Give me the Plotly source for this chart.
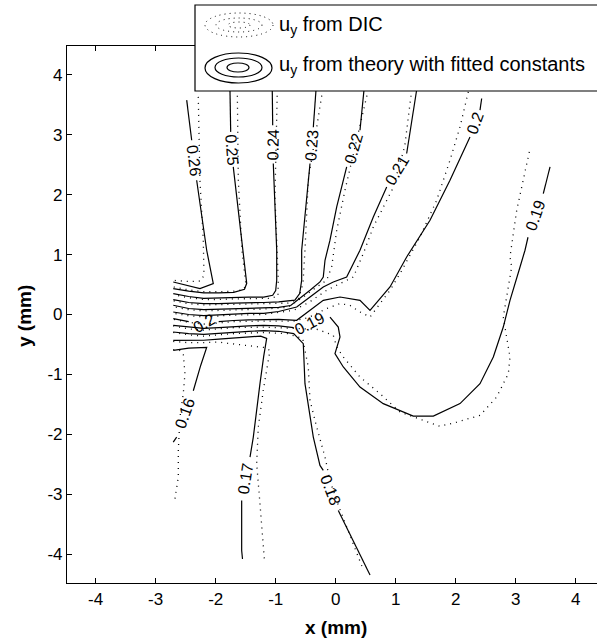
import plotly.graph_objects as go

# ---------------- data (mm) ----------------
# Theory contours (solid); None = gap where the contour label sits
th_026_x = [-2.483, -2.400, None, -2.317, -2.150, -2.040, -2.262, -2.707]
th_026_y = [3.578, 2.908, None, 2.240, 1.072, 0.516, 0.432, 0.543]

th_025_x = [-1.762, -1.750, None, -1.707, -1.483, -1.52, -1.70, -1.95, -2.20, -2.45, -2.707]
th_025_y = [3.75, 3.047, None, 2.462, 0.52, 0.42, 0.37, 0.36, 0.36, 0.39, 0.432]

th_024_x = [-1.057, -1.050, None, -1.040, -0.983, -0.983, -1.00, -1.05, -1.20, -1.45, -1.70, -1.95, -2.20, -2.45, -2.707]
th_024_y = [3.75, 3.159, None, 2.519, 1.072, 0.571, 0.40, 0.32, 0.29, 0.29, 0.28, 0.27, 0.27, 0.30, 0.349]

th_023_x = [-0.328, -0.373, None, -0.428, -0.567, -0.567, -0.60, -0.68, -0.95, -1.20, -1.45, -1.70, -1.95, -2.20, -2.45, -2.707]
th_023_y = [3.75, 3.125, None, 2.519, 1.072, 0.571, 0.35, 0.24, 0.21, 0.20, 0.20, 0.19, 0.18, 0.18, 0.20, 0.249]

th_022_x = [0.472, 0.405, None, 0.183, 0.017, -0.095, -0.178, -0.207, -0.262, -0.428, -0.60, -0.75, -0.95, -1.20, -1.45, -1.70, -1.95, -2.20, -2.45, -2.707]
th_022_y = [3.75, 3.075, None, 2.462, 1.795, 1.239, 0.905, 0.626, 0.543, 0.404, 0.27, 0.15, 0.12, 0.11, 0.11, 0.10, 0.09, 0.08, 0.10, 0.154]

th_021_x = [1.350, 1.183, None, 0.850, 0.627, 0.405, 0.183, -0.040, -0.207, -0.428, -0.650, -0.95, -1.20, -1.45, -1.70, -1.95, -2.20, -2.45, -2.707]
th_021_y = [3.75, 2.686, None, 2.129, 1.628, 1.072, 0.626, 0.543, 0.459, 0.292, 0.125, 0.05, 0.02, 0.02, 0.01, -0.01, -0.02, 0.00, 0.042]

th_020_x = [2.433, 2.405, None, 2.238, 1.905, 1.572, 1.183, 0.905, 0.572, 0.405, 0.072, -0.207, -0.428, -0.650, -0.95, -1.20, -1.45, -1.70, -1.95, None, -2.45, -2.707]
th_020_y = [3.604, 3.409, None, 2.963, 2.240, 1.573, 0.960, 0.459, 0.070, 0.237, 0.292, 0.237, 0.070, -0.097, -0.08, -0.08, -0.09, -0.10, -0.12, None, -0.12, -0.068]

th_019_x = [-2.707, -2.45, -2.20, -1.95, -1.70, -1.45, -1.20, -0.95, -0.70, None, -0.095, 0.043, 0.072, -0.012, 0.127, 0.405, 0.793, 1.293, 1.627, 2.072, 2.405, 2.627, 2.793, 2.905, 3.072, 3.155, 3.205, None, 3.460, 3.572]
th_019_y = [-0.180, -0.21, -0.23, -0.22, -0.20, -0.19, -0.18, -0.19, -0.22, None, -0.042, -0.209, -0.376, -0.653, -0.876, -1.210, -1.487, -1.694, -1.694, -1.487, -1.154, -0.710, -0.209, 0.237, 0.793, 1.072, 1.289, None, 2.018, 2.462]

th_018_x = [-2.707, -2.45, -2.20, -1.95, -1.70, -1.45, -1.20, -0.95, -0.70, -0.54, -0.512, -0.373, -0.262, -0.207, None, 0.043, 0.377, 0.572]
th_018_y = [-0.292, -0.32, -0.33, -0.31, -0.29, -0.28, -0.27, -0.28, -0.32, -0.486, -1.154, -2.045, -2.518, -2.60, None, -3.269, -3.937, -4.347]

th_017_x = [-2.707, -2.45, -2.20, -1.95, -1.70, -1.45, -1.25, -1.15, -1.20, -1.262, -1.373, -1.428, None, -1.567, -1.567, -1.553]
th_017_y = [-0.431, -0.43, -0.43, -0.41, -0.39, -0.37, -0.36, -0.40, -0.70, -1.154, -2.045, -2.379, None, -3.102, -3.937, -4.080]

th_016_x = [-2.707, -2.45, -2.15, -2.25, -2.373, None, -2.650, -2.707]
th_016_y = [-0.598, -0.56, -0.55, -0.85, -1.272, None, -2.045, -2.129]

# DIC contours (dotted)
dic_026_x = [-2.290, -2.262, -2.207, -2.195, -2.25, -2.45, -2.707]
dic_026_y = [3.631, 2.240, 1.239, 0.654, 0.56, 0.55, 0.57]
dic_025_x = [-1.640, -1.623, -1.562, -1.495, -1.55, -1.70, -1.95, -2.20, -2.45, -2.707]
dic_025_y = [3.75, 2.240, 1.072, 0.488, 0.41, 0.39, 0.38, 0.38, 0.41, 0.46]
dic_024_x = [-0.973, -1.012, -0.957, -0.962, -1.10, -1.45, -1.70, -1.95, -2.20, -2.45, -2.707]
dic_024_y = [3.75, 1.962, 0.571, 0.304, 0.27, 0.27, 0.26, 0.25, 0.25, 0.28, 0.33]
dic_023_x = [-0.217, -0.457, -0.512, -0.545, -0.62, -0.80, -1.20, -1.70, -2.20, -2.45, -2.707]
dic_023_y = [3.75, 2.240, 1.072, 0.52, 0.26, 0.19, 0.18, 0.17, 0.16, 0.18, 0.23]
dic_022_x = [0.543, 0.155, 0.017, -0.067, -0.150, -0.317, -0.540, -0.80, -1.20, -1.70, -2.20, -2.45, -2.707]
dic_022_y = [3.75, 2.074, 1.406, 0.793, 0.571, 0.459, 0.292, 0.12, 0.09, 0.08, 0.06, 0.08, 0.13]
dic_021_x = [1.267, 1.15, 0.95, 0.627, 0.460, 0.295, 0.072, -0.150, -0.45, -0.70, -1.20, -1.70, -2.20, -2.45, -2.707]
dic_021_y = [3.75, 2.80, 2.10, 1.461, 1.017, 0.626, 0.516, 0.404, 0.20, 0.07, 0.00, -0.01, -0.04, -0.02, 0.02]
dic_020_x = [2.210, 2.072, 1.905, 1.683, 1.405, 1.072, 0.905, 0.738, 0.572, 0.405, 0.238, 0.072, -0.150, -0.45, -0.70, -1.20, -1.70, -2.20, -2.45, -2.707]
dic_020_y = [3.714, 3.130, 2.574, 1.906, 1.294, 0.683, 0.404, 0.182, -0.042, 0.042, 0.153, 0.182, 0.10, -0.05, -0.11, -0.11, -0.12, -0.16, -0.13, -0.08]
dic_019_x = [3.227, 3.127, 3.017, 2.960, 2.905, 2.933, 2.793, 2.905, 2.877, 2.683, 2.405, 2.017, 1.738, 1.460, 1.072, 0.738, 0.405, 0.127, 0.017, -0.040, -0.30, -0.70, -1.20, -1.70, -2.20, -2.45, -2.707]
dic_019_y = [2.713, 2.240, 1.739, 1.350, 0.960, 0.793, -0.042, -0.710, -0.987, -1.377, -1.683, -1.795, -1.866, -1.766, -1.628, -1.321, -1.043, -0.710, -0.543, -0.347, -0.25, -0.23, -0.21, -0.22, -0.26, -0.24, -0.19]
dic_018_x = [-2.707, -2.45, -2.20, -1.70, -1.20, -0.80, -0.55, -0.457, -0.428, -0.317, -0.178, -0.095, 0.05, 0.30, 0.40, 0.46]
dic_018_y = [-0.30, -0.34, -0.36, -0.32, -0.30, -0.32, -0.40, -0.876, -1.432, -1.878, -2.379, -2.775, -3.20, -3.85, -4.11, -4.26]
dic_017_x = [-2.707, -2.45, -2.20, -1.95, -1.80, -1.50, -1.20, -1.095, -1.207, -1.290, -1.317, -1.262, -1.207, -1.187]
dic_017_y = [-0.45, -0.47, -0.47, -0.46, -0.48, -0.52, -0.55, -0.598, -1.266, -1.878, -2.489, -3.157, -3.825, -4.11]
dic_016_x = [-2.707, -2.60, -2.540, -2.512, -2.540, -2.595, -2.623, -2.623, -2.678]
dic_016_y = [-0.586, -0.60, -0.653, -0.987, -1.320, -1.711, -2.270, -2.713, -3.073]

# contour labels: text, position (mm), angle (deg)
label_text = ["0.26", "0.25", "0.24", "0.23", "0.22", "0.21", "0.2", "0.19", "0.19", "0.18", "0.17", "0.16", "0.2"]
label_x = [-2.358, -1.728, -1.045, -0.400, 0.300, 1.017, 2.320, 3.330, -0.430, -0.080, -1.500, -2.510, -2.200]
label_y = [2.574, 2.755, 2.839, 2.822, 2.770, 2.410, 3.190, 1.650, -0.150, -2.930, -2.740, -1.660, -0.150]
label_angle = [83, 86, -89, -85, -74, -59, -70, -71, -27, 69, -81, -70, -30]

tick_vals = [-4, -3, -2, -1, 0, 1, 2, 3, 4]
tick_text = ["-4", "-3", "-2", "-1", "0", "1", "2", "3", "4"]

theory = [(th_026_x, th_026_y), (th_025_x, th_025_y), (th_024_x, th_024_y), (th_023_x, th_023_y),
          (th_022_x, th_022_y), (th_021_x, th_021_y), (th_020_x, th_020_y), (th_019_x, th_019_y),
          (th_018_x, th_018_y), (th_017_x, th_017_y), (th_016_x, th_016_y)]
dic = [(dic_026_x, dic_026_y), (dic_025_x, dic_025_y), (dic_024_x, dic_024_y), (dic_023_x, dic_023_y),
       (dic_022_x, dic_022_y), (dic_021_x, dic_021_y), (dic_020_x, dic_020_y), (dic_019_x, dic_019_y),
       (dic_018_x, dic_018_y), (dic_017_x, dic_017_y), (dic_016_x, dic_016_y)]

fig = go.Figure()
for xs, ys in dic:
    fig.add_trace(go.Scatter(x=xs, y=ys, mode="lines", showlegend=False, hoverinfo="skip",
                             line=dict(color="black", width=1.3, dash="1px,5px")))
for xs, ys in theory:
    fig.add_trace(go.Scatter(x=xs, y=ys, mode="lines", showlegend=False, hoverinfo="skip",
                             line=dict(color="black", width=1.2)))

FONT = "Liberation Sans, Arial, sans-serif"
for t, x, y, a in zip(label_text, label_x, label_y, label_angle):
    fig.add_annotation(x=x, y=y, xref="x", yref="y", text=t, showarrow=False, textangle=a,
                       font=dict(family=FONT, size=16, color="black"))

W, H = 597, 642
L, T, B = 67, 46, 59
PW, PH = W - L, H - T - B


def px(xp):
    return (xp - L) / PW


def py(yp):
    return (H - B - yp) / PH


shapes = []
# legend box
shapes.append(dict(type="rect", xref="paper", yref="paper", x0=px(195), x1=px(620), y0=py(91), y1=py(5),
                   fillcolor="white", line=dict(color="black", width=1.2), layer="above"))
# legend icons
for (x0, x1, y0, y1) in [(205, 273, 13, 37), (216, 262, 18, 32), (228, 250, 22, 28)]:
    shapes.append(dict(type="circle", xref="paper", yref="paper", x0=px(x0), x1=px(x1), y0=py(y1), y1=py(y0),
                       line=dict(color="black", width=1, dash="1px,4px"), layer="above"))
for (x0, x1, y0, y1) in [(205, 272, 53, 83), (215, 262, 58, 77), (227, 249, 63, 72)]:
    shapes.append(dict(type="circle", xref="paper", yref="paper", x0=px(x0), x1=px(x1), y0=py(y1), y1=py(y0),
                       line=dict(color="black", width=1.2), layer="above"))

fig.add_annotation(xref="paper", yref="paper", x=px(277), y=py(25), xanchor="left", yanchor="middle",
                   text="u<sub>y</sub> from DIC", showarrow=False, font=dict(family=FONT, size=20, color="black"))
fig.add_annotation(xref="paper", yref="paper", x=px(277), y=py(65), xanchor="left", yanchor="middle",
                   text="u<sub>y</sub> from theory with fitted constants", showarrow=False,
                   font=dict(family=FONT, size=20, color="black"))
# axis titles
fig.add_annotation(xref="paper", yref="paper", x=px(335.7), y=py(627), xanchor="center", yanchor="middle",
                   text="<b>x (mm)</b>", showarrow=False, font=dict(family=FONT, size=19, color="black"))
fig.add_annotation(xref="paper", yref="paper", x=px(24), y=py(316), xanchor="center", yanchor="middle",
                   text="<b>y (mm)</b>", textangle=-90, showarrow=False, font=dict(family=FONT, size=19, color="black"))

fig.update_layout(
    width=W, height=H, margin=dict(l=L, r=0, t=T, b=B),
    paper_bgcolor="white", plot_bgcolor="white", shapes=shapes, showlegend=False,
    xaxis=dict(range=[-4.478, 4.355], tickvals=tick_vals, ticktext=tick_text, ticks="inside", ticklen=5,
               tickcolor="black", showline=True, linecolor="black", linewidth=1.2, mirror="ticks",
               showgrid=False, zeroline=False, tickfont=dict(family=FONT, size=17, color="black")),
    yaxis=dict(range=[-4.48, 4.48], tickvals=tick_vals, ticktext=tick_text, ticks="inside", ticklen=5,
               tickcolor="black", showline=True, linecolor="black", linewidth=1.2, mirror=False,
               showgrid=False, zeroline=False, tickfont=dict(family=FONT, size=17, color="black")),
)
fig.write_html("out.html", config={"displayModeBar": False},
               post_script="document.body.style.margin='0';document.body.style.overflow='hidden';")
